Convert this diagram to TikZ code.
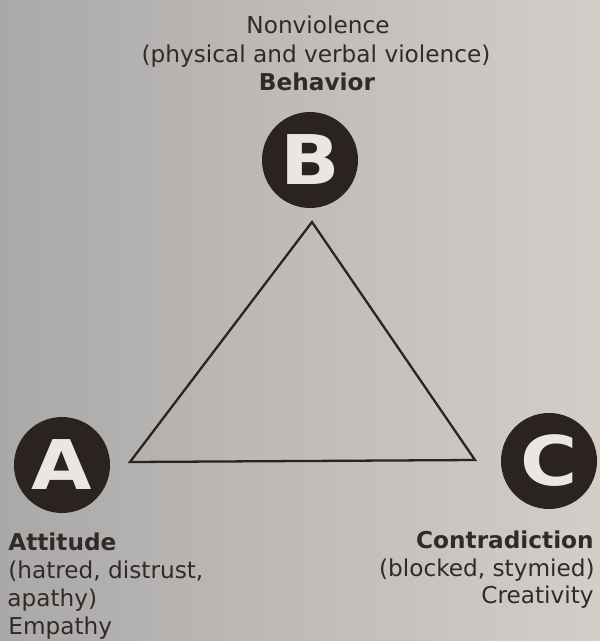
\documentclass[tikz,border=0pt]{standalone}
\usepackage{fontspec}
\setmainfont{DejaVu Sans}
\usepackage{tikz}
\usepackage{color}
\definecolor{ink}{RGB}{42,35,33}
\definecolor{print}{RGB}{48,42,40}
\definecolor{blank}{RGB}{234,230,226}
\definecolor{paperL}{RGB}{170,169,168}
\definecolor{paperM}{RGB}{214,209,204}
\definecolor{paperR}{RGB}{212,206,201}
\newcommand{\ringsize}{1.92cm}
\newcommand{\labelfont}{\fontsize{13.2}{16}\selectfont}
\newcommand{\wide}[1]{\scalebox{1.14}[1]{#1}}
\tikzset{
  ring/.style={circle, fill=ink, text=blank, inner sep=0pt, minimum size=\ringsize,
    font=\fontsize{39}{39}\selectfont\bfseries},
  caption/.style={text=print, inner sep=0pt, font=\labelfont}
}

\begin{document}
\begin{tikzpicture}[x=0.2mm,y=-0.2mm]
      \shade[left color=paperL, middle color=paperM, right color=paperR] (0,0) rectangle (600,641);
      \useasboundingbox (0,0) rectangle (600,641);
      % the three corners
      \node (B) at (310,160) [ring] {\wide{B}};
      \node (A) at (62,465)  [ring] {\wide{A}};
      \node (C) at (549,461) [ring] {\wide{C}};
      \coordinate (tl) at (130,462);
      \coordinate (tt) at (312,222);
      \coordinate (tr) at (475,460);
      \draw[ink, line width=1.3pt] (tl) -- (tt) -- (tr) -- cycle;
      % behavior
      \node (b1) at (318,33) [caption, anchor=base] {Nonviolence};
      \node (b2) at (316,62) [caption, anchor=base] {(physical and verbal violence)};
      \node (b3) at (317,90) [caption, anchor=base] {\bfseries Behavior};
      % attitude
      \node (a1) at (8,550) [caption, anchor=base west] {\bfseries Attitude};
      \node (a2) at (8,578) [caption, anchor=base west] {(hatred, distrust,};
      \node (a3) at (7,606) [caption, anchor=base west] {apathy)};
      \node (a4) at (8,634) [caption, anchor=base west] {Empathy};
      % contradiction
      \node (c1) at (594,548) [caption, anchor=base east] {\bfseries Contradiction};
      \node (c2) at (595,576) [caption, anchor=base east] {(blocked, stymied)};
      \node (c3) at (594,603) [caption, anchor=base east] {Creativity};
  \end{tikzpicture}
\end{document}
